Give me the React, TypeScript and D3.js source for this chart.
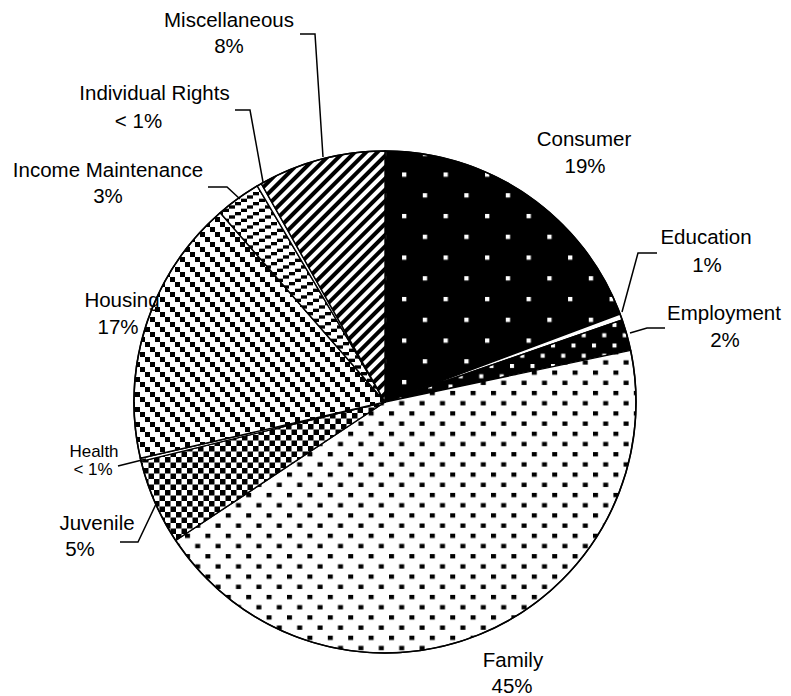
import React from 'react';
import * as d3 from 'd3';

const categories = ['Consumer', 'Education', 'Employment', 'Family', 'Juvenile', 'Health', 'Housing', 'Income Maintenance', 'Individual Rights', 'Miscellaneous'];
const values = [19.3, 0.4, 2.0, 44.0, 5.5, 0.2, 17.2, 2.9, 0.3, 8.2];
const percentLabels = ['19%', '1%', '2%', '45%', '5%', '< 1%', '17%', '3%', '< 1%', '8%'];

const W = 791;
const H = 696;
const CX = 385;
const CY = 402;
const R = 251;
const FONT = 'Arial, "Liberation Sans", sans-serif';

const fillFor: Record<string, string> = {
  'Consumer': 'url(#pConsumer)',
  'Education': '#ffffff',
  'Employment': 'url(#pEmployment)',
  'Family': 'url(#pFamily)',
  'Juvenile': 'url(#pJuvenile)',
  'Health': '#ffffff',
  'Housing': 'url(#pHousing)',
  'Income Maintenance': 'url(#pIncome)',
  'Individual Rights': '#ffffff',
  'Miscellaneous': 'url(#pMisc)',
};

// label layout: [x of name, baseline of name, x of pct, baseline of pct, font size]
const labelLayout: Record<string, [number, number, number, number, number]> = {
  'Consumer': [584, 146, 585, 173, 20.5],
  'Education': [706, 243.5, 707, 271.5, 20.5],
  'Employment': [724, 320, 725, 346.5, 20.5],
  'Family': [513, 667, 512, 693, 20.5],
  'Juvenile': [97, 530, 80, 556, 20.5],
  'Health': [94, 457, 93, 475, 17],
  'Housing': [122, 307, 118, 334, 20.5],
  'Income Maintenance': [108, 176.7, 108, 203, 20.5],
  'Individual Rights': [154.5, 100, 138.5, 127.7, 20.5],
  'Miscellaneous': [229, 26.7, 229, 53.3, 20.5],
};

const leaders: Record<string, [number, number][]> = {
  'Miscellaneous': [[300, 34], [315, 34], [323, 157]],
  'Individual Rights': [[235, 110], [250, 110], [263, 182]],
  'Income Maintenance': [[208, 187], [227, 187], [240, 199]],
  'Education': [[657, 253], [638, 253], [622, 312]],
  'Employment': [[665, 328], [647, 328], [630, 333]],
  'Health': [[118, 466], [146, 459]],
  'Juvenile': [[120, 542], [138, 542], [157, 502]],
};

export default function App() {
  const data = categories.map((c, i) => ({ name: c, value: values[i], pct: percentLabels[i] }));
  const pie = d3.pie<any>().sort(null).value((d: any) => d.value).startAngle(0).endAngle(Math.PI * 2);
  const arcs = pie(data);
  const arc = d3.arc<any>().innerRadius(0).outerRadius(R);

  return (
    <svg width={W} height={H} style={{ position: 'absolute', left: 0, top: 0, background: '#fff' }}>
      <defs>
        <pattern id="pConsumer" patternUnits="userSpaceOnUse" x={37.8} y={40.2} width={41.5} height={41.5}>
          <rect width={41.5} height={41.5} fill="#000" />
          <rect x={0} y={0} width={4.3} height={4.3} fill="#fff" />
          <rect x={20.75} y={20.75} width={4.3} height={4.3} fill="#fff" />
        </pattern>
        <pattern id="pEmployment" patternUnits="userSpaceOnUse" x={2} y={3} width={20.5} height={20.5}>
          <rect width={20.5} height={20.5} fill="#000" />
          <rect x={0} y={0} width={4} height={4} fill="#fff" />
          <rect x={10.25} y={10.25} width={4} height={4} fill="#fff" />
        </pattern>
        <pattern id="pFamily" patternUnits="userSpaceOnUse" x={4} y={9.3} width={20.4} height={20.4}>
          <rect width={20.4} height={20.4} fill="#fff" />
          <rect x={0} y={0} width={5} height={4.3} fill="#000" />
          <rect x={10.2} y={10.2} width={5} height={4.3} fill="#000" />
        </pattern>
        <pattern id="pJuvenile" patternUnits="userSpaceOnUse" width={11} height={11}>
          <rect width={11} height={11} fill="#fff" />
          <rect x={0} y={0} width={5.5} height={5.5} fill="#000" />
          <rect x={5.5} y={5.5} width={5.5} height={5.5} fill="#000" />
        </pattern>
        <pattern id="pHousing" patternUnits="userSpaceOnUse" width={15} height={15}>
          <rect width={15} height={15} fill="#fff" />
          <rect x={0} y={0} width={5} height={5} fill="#000" />
          <rect x={5} y={5} width={5} height={5} fill="#000" />
          <rect x={10} y={10} width={5} height={5} fill="#000" />
        </pattern>
        <pattern id="pIncome" patternUnits="userSpaceOnUse" width={18} height={10}>
          <rect width={18} height={10} fill="#fff" />
          <rect x={0} y={6.67} width={6} height={3.33} fill="#000" />
          <rect x={6} y={3.33} width={6} height={3.33} fill="#000" />
          <rect x={12} y={0} width={6} height={3.33} fill="#000" />
        </pattern>
        <pattern id="pMisc" patternUnits="userSpaceOnUse" width={8} height={8} patternTransform="rotate(45)">
          <rect width={8} height={8} fill="#fff" />
          <rect x={0} y={0} width={4} height={8} fill="#000" />
        </pattern>
      </defs>
      <g transform={`translate(${CX},${CY})`}>
        {arcs.map((a, i) => (
          <path key={i} d={arc(a) as string} fill={fillFor[a.data.name]} stroke="#000" strokeWidth={1.4} strokeLinejoin="round" />
        ))}
        <circle r={R} fill="none" stroke="#000" strokeWidth={1.6} />
      </g>
      {Object.entries(leaders).map(([k, pts]) => (
        <polyline key={k} points={pts.map(p => p.join(',')).join(' ')} fill="none" stroke="#000" strokeWidth={1.5} />
      ))}
      {data.map((d) => {
        const l = labelLayout[d.name];
        return (
          <g key={d.name} fontFamily={FONT} fontSize={l[4]} fill="#000" textAnchor="middle">
            <text x={l[0]} y={l[1]}>{d.name}</text>
            <text x={l[2]} y={l[3]}>{d.pct}</text>
          </g>
        );
      })}
    </svg>
  );
}
